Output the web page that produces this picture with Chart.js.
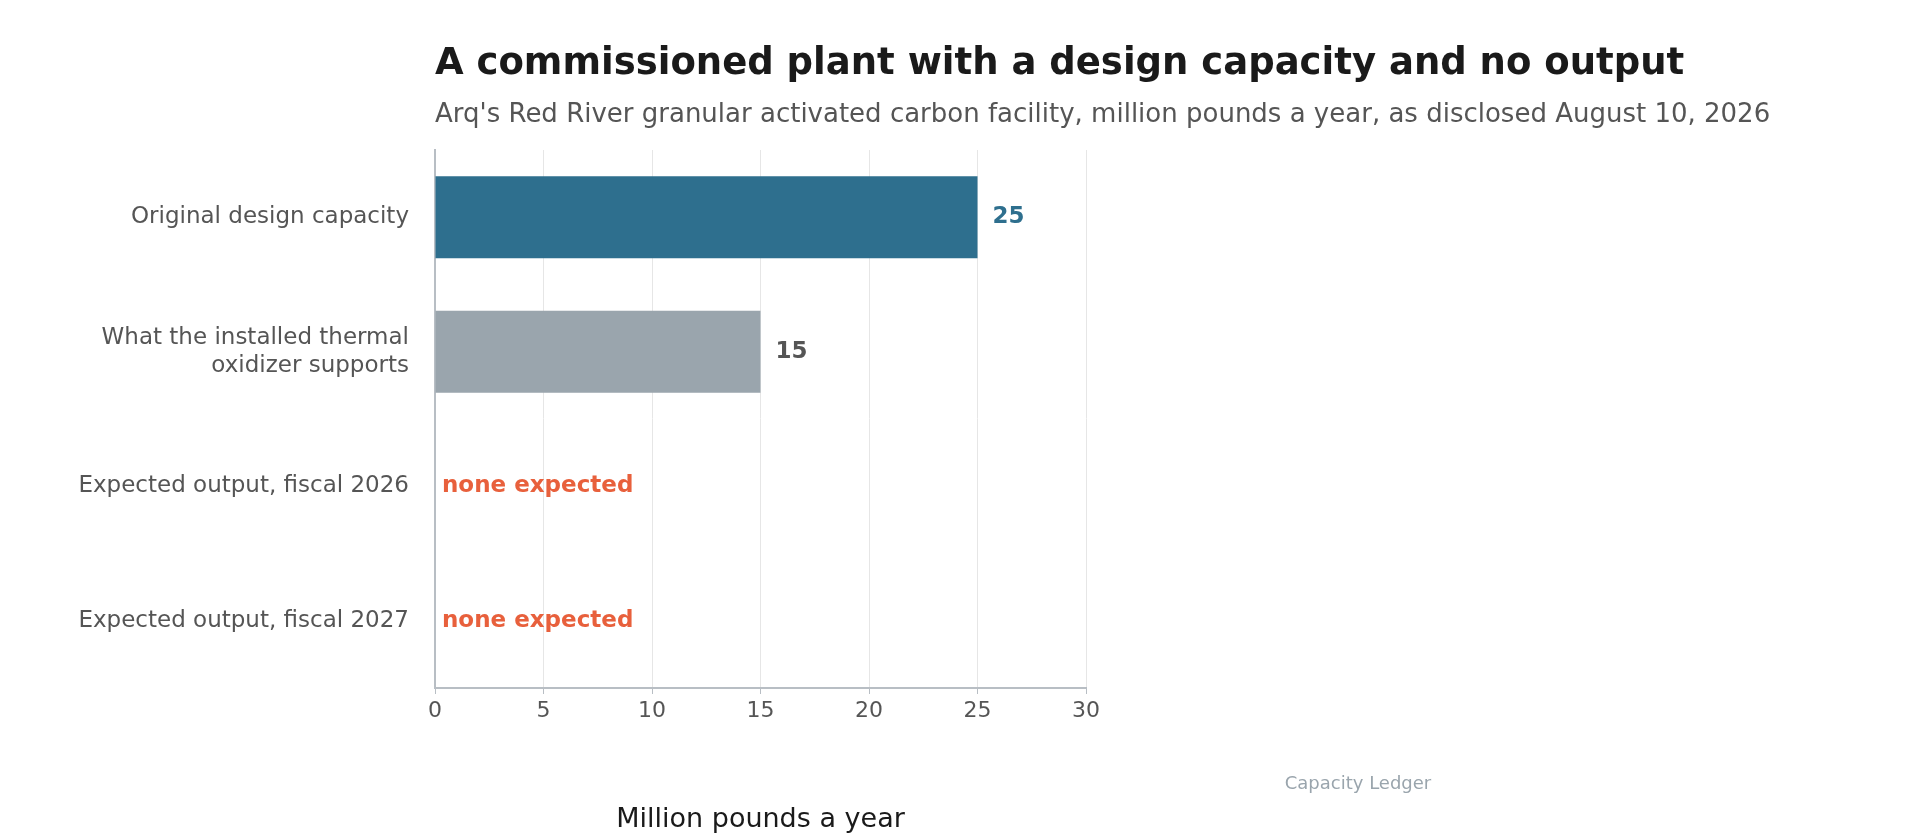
<!DOCTYPE html>
<html>
<head>
<meta charset="utf-8">
<script src="https://cdn.jsdelivr.net/npm/chart.js@4"></script>
<style>
  html, body { margin: 0; padding: 0; background: #fff; }
  #wrap { width: 1929px; height: 840px; }
</style>
</head>
<body>
<div id="wrap"><canvas id="chart" width="1929" height="840"></canvas></div>
<script>
// Chart data
const categories = [
    'Original design capacity',
    ['What the installed thermal', 'oxidizer supports'],
    'Expected output, fiscal 2026',
    'Expected output, fiscal 2027'
];
const capacityValues = [25, 15, 0, 0];
const valueLabels = ['25', '15', 'none expected', 'none expected'];
const barColors = ['#2e6f8e', '#9aa5ad', '#e8603c', '#e8603c'];
const labelColors = ['#2e6f8e', '#555555', '#e8603c', '#e8603c'];
const xTicks = [0, 5, 10, 15, 20, 25, 30];

const FONT = '"DejaVu Sans", sans-serif';

// Title, subtitle, value labels and source line
const annotations = {
    id: 'annotations',
    afterDatasetsDraw(chart) {
        const ctx = chart.ctx;
        const area = chart.chartArea;
        ctx.save();
        ctx.textBaseline = 'middle';
        ctx.textAlign = 'left';
        ctx.fillStyle = '#1a1a1a';
        ctx.font = 'bold 37px ' + FONT;
        ctx.fillText('A commissioned plant with a design capacity and no output', area.left, 64);
        ctx.fillStyle = '#555555';
        ctx.font = '26px ' + FONT;
        ctx.fillText("Arq's Red River granular activated carbon facility, million pounds a year, as disclosed August 10, 2026", area.left, 115);

        const meta = chart.getDatasetMeta(0);
        ctx.font = 'bold 23px ' + FONT;
        meta.data.forEach((bar, i) => {
            ctx.fillStyle = labelColors[i];
            const x = capacityValues[i] > 0 ? bar.x + 15 : area.left + 7;
            ctx.fillText(valueLabels[i], x, bar.y);
        });

        ctx.fillStyle = '#9aa5ad';
        ctx.font = '18px ' + FONT;
        ctx.textAlign = 'center';
        ctx.fillText('Capacity Ledger', 1358, 784);
        ctx.restore();
    }
};

new Chart(document.getElementById('chart'), {
    type: 'bar',
    data: {
        labels: categories,
        datasets: [{
            data: capacityValues,
            backgroundColor: barColors,
            barPercentage: 0.61,
            categoryPercentage: 1.0,
            borderWidth: 0
        }]
    },
    plugins: [annotations],
    options: {
        indexAxis: 'y',
        responsive: false,
        animation: false,
        layout: { padding: { top: 150, right: 843, bottom: 0, left: 0 } },
        plugins: { legend: { display: false }, tooltip: { enabled: false } },
        scales: {
            x: {
                min: 0,
                max: 30,
                afterBuildTicks(scale) { scale.ticks = xTicks.map(v => ({ value: v })); },
                afterFit(scale) { scale.height = 152; },
                grid: { color: '#e6e6e6', tickColor: '#b8bec4', tickLength: 6 },
                border: { color: '#b8bec4', width: 2 },
                ticks: { color: '#555555', font: { family: FONT, size: 22 }, padding: 4 },
                title: {
                    display: true,
                    text: 'Million pounds a year',
                    color: '#1a1a1a',
                    font: { family: FONT, size: 27 },
                    padding: { top: 6 }
                }
            },
            y: {
                afterFit(scale) { scale.width = 435; },
                grid: { display: false },
                border: { color: '#b8bec4', width: 2 },
                ticks: { color: '#555555', font: { family: FONT, size: 23 }, padding: 18 }
            }
        }
    }
});
</script>
</body>
</html>
